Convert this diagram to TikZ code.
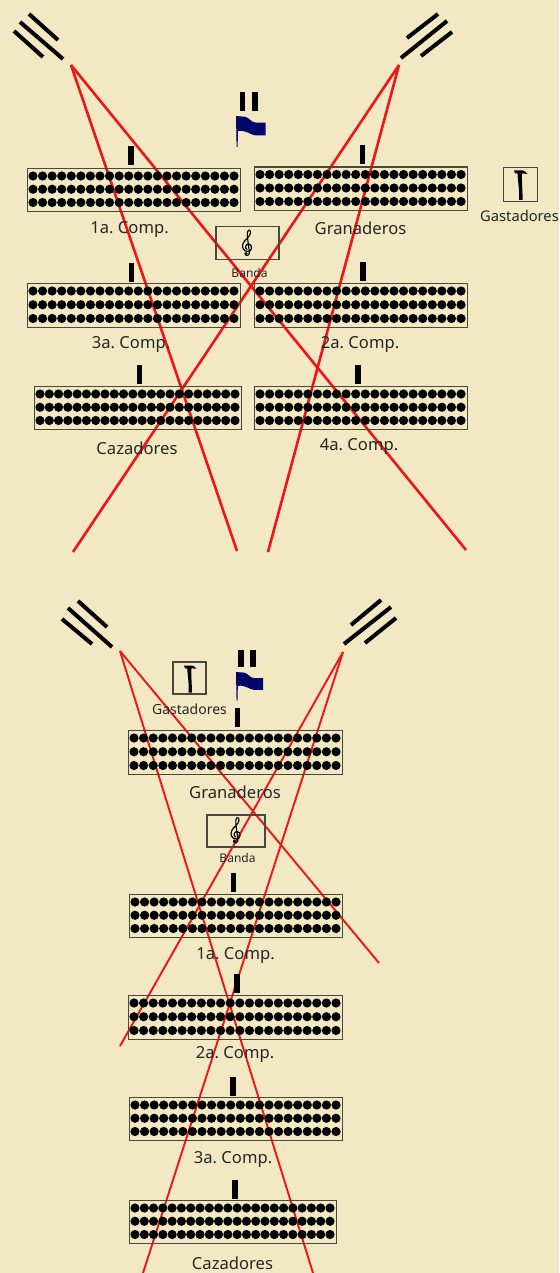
\documentclass[tikz,border=0pt]{standalone}
\usepackage{fontspec}
\setmainfont[WordSpace=0.7]{Noto Sans}
\definecolor{paper}{HTML}{F2E8C3}
\definecolor{redline}{HTML}{F01414}
\definecolor{flagblue}{HTML}{06066A}
\definecolor{framecol}{HTML}{4A473C}
\tikzset{
  frame/.style={draw=framecol,line width=1.3pt},
  sightA/.style={draw=redline,line width=2.6pt},
  sightB/.style={draw=redline,line width=1.9pt},
  slash/.style={draw=black,line width=4pt},
  tick/.style={draw=black,line width=5.6pt},
  lab/.style={inner sep=0pt,font=\fontsize{16.6}{19}\selectfont,text=black!85},
  smalllab/.style={inner sep=0pt,font=\fontsize{14.7}{17}\selectfont,text=black!85},
  tinylab/.style={inner sep=0pt,font=\fontsize{12}{14}\selectfont,text=black!85},
}
% name, x0, y0, x1, y1
\newcommand{\troop}[5]{%
  \node[frame,inner sep=0pt,minimum width=#4 pt-#2 pt,minimum height=#5 pt-#3 pt,anchor=north west] (#1) at (#2,#3) {};
  \pgfmathsetmacro{\dx}{(#4-#2-12)/21}
  \pgfmathsetmacro{\ry}{(#5-#3-16.5)/2}
  \foreach \r in {0,1,2}{\foreach \c in {0,...,21}{
    \fill[black] ({#2+6+\c*\dx},{#3+8+\r*\ry}) circle (4.6);
  }}}
\newcommand{\ticktop}[3]{\draw[tick] (#1,#2) -- (#1,#3);}
\newcommand{\flagmark}[3]{%
  \begin{scope}[shift={(#1,#2)},scale=#3]
   \fill[flagblue] (0,0) -- (9,0.7) .. controls (14,2) and (15,6.5) .. (20,6.7) -- (29.5,6.7) -- (29.5,19.5) -- (20,19.5) .. controls (14,19) and (11,14) .. (2,15) -- (1.6,31) -- (0.6,31) -- cycle;
  \end{scope}}
\newcommand{\hammer}[3]{%
  \begin{scope}[shift={(#1,#2)},scale=#3]
   \fill[black] (0,0) -- (9,0) .. controls (11,1) and (12.5,1.5) .. (13.5,3.5) -- (8,3) .. controls (7.5,9) and (8.5,18) .. (8.7,29.5) -- (5,29.5) .. controls (5.5,18) and (4,12) .. (3.5,3) -- (1,3) -- cycle;
  \end{scope}}
\newcommand{\clefmark}[2]{%
  \begin{scope}[shift={(#1,#2)}]
   \draw[black,line width=1.15pt,line cap=round] (-0.5,6.5) .. controls (-3,5) and (-2,1) .. (1,1) .. controls (5,1) and (5.5,8.5) .. (0.5,8.5) .. controls (-4,8.5) and (-6,4.5) .. (-4.5,0.5) .. controls (-3,-3.5) and (2.5,-6) .. (3,-10) .. controls (3.2,-13) and (1,-14) .. (0,-11) .. controls (-0.8,-8) and (1.5,6) .. (2,9) .. controls (2.5,12) and (-1.5,14) .. (-2.5,11);
   \fill[black] (-1.5,10.5) circle (1.7);
  \end{scope}}
\begin{document}
\begin{tikzpicture}[x=1pt,y=-1pt]
\useasboundingbox[fill=paper] (0,0) rectangle (559,1273);
% sight origins and ends
\coordinate (oA) at (71,65);
\coordinate (oB) at (399,65);
\coordinate (eA1) at (237,551);
\coordinate (eA2) at (466,550);
\coordinate (eB1) at (73,552);
\coordinate (eB2) at (268,552);
\coordinate (oC) at (120,651);
\coordinate (oD) at (343,652);
\coordinate (eC1) at (379,963);
\coordinate (eC2) at (313,1273);
\coordinate (eD1) at (120,1046);
\coordinate (eD2) at (143,1273);
\draw[sightA] (oA) -- (eA1);
\draw[sightA] (oA) -- (eA2);
\draw[sightA] (oB) -- (eB1);
\draw[sightA] (oB) -- (eB2);
\draw[sightB] (oC) -- (eC1);
\draw[sightB] (oC) -- (eC2);
\draw[sightB] (oD) -- (eD1);
\draw[sightB] (oD) -- (eD2);
% upper formation
\troop{compA}{27}{168}{240}{211}
\troop{gran}{254}{166.5}{467}{210}
\troop{compC}{27}{283}{240}{327}
\troop{compB}{254}{283}{467}{327}
\troop{caz}{34}{386}{241}{429}
\troop{compD}{254}{386}{467}{429}
\ticktop{131}{146}{165}
\ticktop{362.5}{145}{164}
\ticktop{131.5}{263}{282}
\ticktop{363}{262}{281}
\ticktop{139.5}{365}{384}
\ticktop{358}{365}{384}
\draw[tick] (242.5,92) -- (242.5,111);
\draw[tick] (255,92) -- (255,111);
\flagmark{236}{116}{1}
\draw[slash] (29,14) -- (58,40);
\draw[slash] (20,22) -- (63,59);
\draw[slash] (14,31) -- (43,57);
\draw[slash] (407,38) -- (438,14);
\draw[slash] (401,58) -- (447,21);
\draw[slash] (421,56) -- (452,32);
\node[frame,inner sep=0pt,minimum width=34pt,minimum height=34pt] (gastbox) at (520.5,184.5) {};
\hammer{514}{170.5}{1}
\node[frame,inner sep=0pt,minimum width=63pt,minimum height=33pt] (bandbox) at (247.5,243) {};
\clefmark{247.5}{243}
\node[lab] (l1) at (129.5,229.5) {1a. Comp.};
\node[lab] (l2) at (360.5,228) {Granaderos};
\node[smalllab] (l3) at (519.5,216) {Gastadores};
\node[tinylab] (l4) at (249.5,273) {Banda};
\node[lab] (l5) at (131,344.5) {3a. Comp.};
\node[lab] (l6) at (360,344.5) {2a. Comp.};
\node[lab] (l7) at (137,448) {Cazadores};
\node[lab] (l8) at (359,446.5) {4a. Comp.};
% lower formation
\troop{gran2}{128}{730}{342}{774}
\troop{compA2}{129}{894}{342}{937}
\troop{compB2}{128}{995}{342}{1039}
\troop{compC2}{129}{1097}{342}{1140}
\troop{caz2}{129}{1200}{336}{1243}
\ticktop{237.5}{708}{727}
\ticktop{233.5}{873}{892}
\ticktop{237}{974}{993}
\ticktop{233}{1077}{1096}
\ticktop{235}{1180}{1199}
\draw[tick] (241,650) -- (241,667);
\draw[tick] (253,650) -- (253,667);
\flagmark{236}{672}{0.92}
\draw[slash] (78,601) -- (107,627);
\draw[slash] (68,608) -- (112,647);
\draw[slash] (62,619) -- (92,644);
\draw[slash] (351,625) -- (381,600);
\draw[slash] (344,644) -- (391,607);
\draw[slash] (365,643) -- (396,618);
\node[frame,inner sep=0pt,minimum width=33pt,minimum height=32pt] (gastbox2) at (189.5,678) {};
\hammer{184}{665.5}{0.92}
\node[frame,inner sep=0pt,minimum width=58pt,minimum height=32pt] (bandbox2) at (236,831) {};
\clefmark{236}{830.5}
\node[smalllab,font=\fontsize{14}{17}\selectfont] (m1) at (189.5,709.5) {Gastadores};
\node[lab] (m2) at (235,792) {Granaderos};
\node[tinylab] (m3) at (237.5,858) {Banda};
\node[lab] (m4) at (235.5,955.5) {1a. Comp.};
\node[lab] (m5) at (235,1054.5) {2a. Comp.};
\node[lab] (m6) at (233,1159.5) {3a. Comp.};
\node[lab] (m7) at (232.5,1263) {Cazadores};
\end{tikzpicture}
\end{document}
